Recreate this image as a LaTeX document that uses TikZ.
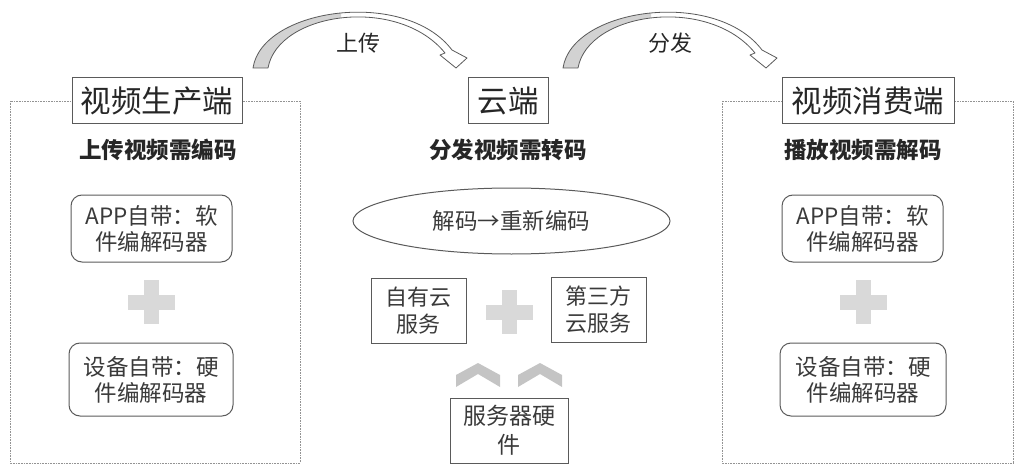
\documentclass[tikz,border=0pt]{standalone}
\usepackage{fontspec}
\setmainfont{Noto Sans CJK SC}
\usetikzlibrary{shapes.geometric}
\definecolor{txt}{HTML}{3A3A3A}
\definecolor{edge}{HTML}{5A5A5A}
\definecolor{plusc}{HTML}{D9D9D9}
\definecolor{chev}{HTML}{C4C4C4}
\definecolor{arrg}{HTML}{D2D2D2}
\newcommand\arrowshape{(0,0) .. controls (9,-60) and (152,-80) .. (199,-18) -- (214,-10) -- (203,0) -- (187,-13) -- (192,-15) .. controls (145,-73) and (25,-56) .. (15,0) -- cycle}
\tikzset{
  titlebox/.style={draw=edge, line width=1pt, fill=white, inner sep=0pt, minimum height=46pt, text=black!85, font=\fontsize{30.5}{31}\selectfont},
  subtitle/.style={inner sep=0pt, text=black!85, font=\bfseries\fontsize{22.5}{24}\selectfont},
  roundbox/.style={draw=edge, line width=1pt, rounded corners=11pt, inner sep=0pt, align=center, text=txt, font=\fontsize{22.5}{26}\selectfont},
  sqbox/.style={draw=edge, line width=1pt, inner sep=0pt, align=center, text=txt, font=\fontsize{22}{27}\selectfont},
  dotbox/.style={draw=gray!85, line width=0.8pt, dash pattern=on 0.8pt off 0.8pt},
  arrlabel/.style={inner sep=0pt, text=black!85, font=\fontsize{22}{24}\selectfont},
  plus/.pic={
    \fill[plusc] (-23.5,-7.5) rectangle (23.5,7.5);
    \fill[plusc] (-7.5,-22) rectangle (7.5,22);
  },
  chevron/.pic={
    \fill[chev] (-22,12) -- (-22,0) -- (0,-12) -- (22,0) -- (22,12) -- (0,-1) -- cycle;
  },
  bigarrow/.pic={
    \fill[white] \arrowshape;
    \begin{scope}
      \clip (-10,-100) rectangle (88,5);
      \fill[arrg] \arrowshape;
    \end{scope}
    \draw[edge, line width=0.8pt, line join=round] \arrowshape;
  }
}
\begin{document}
\begin{tikzpicture}[x=1pt, y=-1pt]
\useasboundingbox (0,0) rectangle (1017,468);

% dotted frames
\draw[dotbox] (10,101) rectangle (300,463);
\draw[dotbox] (722,101) rectangle (1013,463);

% curved arrows
\pic at (253,68) {bigarrow};
\pic at (563,68) {bigarrow};
\node[arrlabel] (up) at (358,43) {上传};
\node[arrlabel] (dist) at (670,43) {分发};

% left column
\node[titlebox, minimum width=170pt] (lt) at (157,101) {视频生产端};
\node[subtitle] (ls) at (158,150) {上传视频需编码};
\node[roundbox, minimum width=161pt, minimum height=67pt] (la) at (151.5,228.5) {APP自带：软\\件编解码器};
\pic at (151.5,302) {plus};
\node[roundbox, minimum width=164pt, minimum height=73pt] (lb) at (151,379.5) {设备自带：硬\\件编解码器};

% center column
\node[titlebox, minimum width=80pt] (ct) at (508,101) {云端};
\node[subtitle] (cs) at (508,150) {分发视频需转码};
\node[ellipse, draw=edge, line width=1pt, minimum width=317pt, minimum height=66pt, inner sep=0pt, text=txt, font=\fontsize{22.5}{24}\selectfont] (ce) at (511.5,221) {解码→重新编码};
\node[sqbox, minimum width=95pt, minimum height=65pt] (c1) at (418.5,310.5) {自有云\\服务};
\pic at (509,312) {plus};
\node[sqbox, minimum width=95pt, minimum height=65pt] (c2) at (598.5,309.5) {第三方\\云服务};
\pic at (478,375) {chevron};
\pic at (540,375) {chevron};
\node[sqbox, minimum width=118pt, minimum height=65pt, font=\fontsize{23}{29}\selectfont] (c3) at (509,430.5) {服务器硬\\件};

% right column
\node[titlebox, minimum width=172pt] (rt) at (868,101) {视频消费端};
\node[subtitle] (rs) at (863,150) {播放视频需解码};
\node[roundbox, minimum width=161pt, minimum height=67pt] (ra) at (862.5,228.5) {APP自带：软\\件编解码器};
\pic at (863.5,302) {plus};
\node[roundbox, minimum width=166pt, minimum height=73pt] (rb) at (863,379.5) {设备自带：硬\\件编解码器};
\end{tikzpicture}
\end{document}
